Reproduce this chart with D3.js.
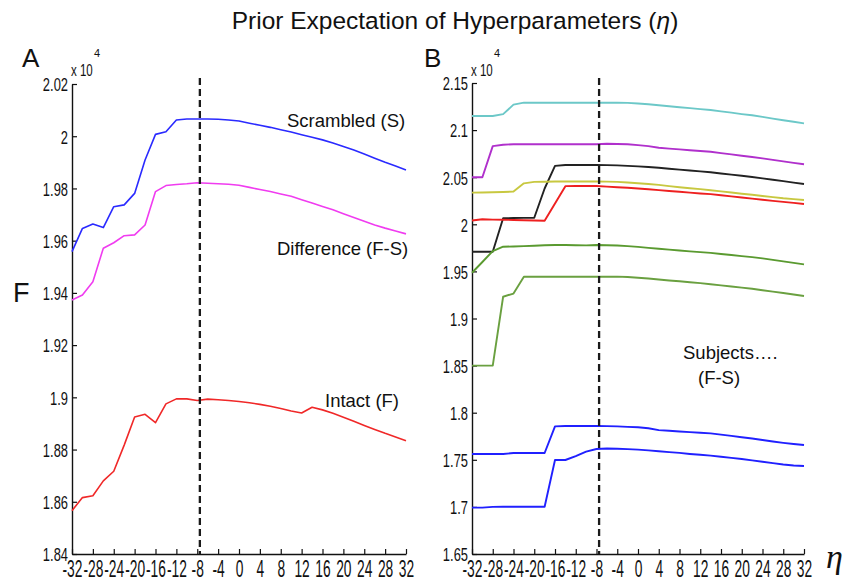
<!DOCTYPE html>
<html><head><meta charset="utf-8">
<script src="https://cdn.jsdelivr.net/npm/d3@7/dist/d3.min.js"></script>
<style>
body{margin:0;background:#fff}
svg{display:block}
text{font-family:"Liberation Sans",Arial,Helvetica,sans-serif;fill:#111}
</style>
</head><body>
<svg id="chart" width="847" height="586"></svg>
<script>
// ---- shared x grid (eta) ----
const eta = [-32,-30,-28,-26,-24,-22,-20,-18,-16,-14,-12,-10,-8,-6,-4,-2,0,2,4,6,8,10,12,14,16,18,20,22,24,26,28,30,32];
const xTicks = [-32,-28,-24,-20,-16,-12,-8,-4,0,4,8,12,16,20,24,28,32];
const priorEta = -7.5;

// ---- Panel A (values x 10^4) ----
const yTicksA = [1.84,1.86,1.88,1.9,1.92,1.94,1.96,1.98,2,2.02];
const scrambledS = [1.9558,1.9647,1.9664,1.9650,1.9730,1.9737,1.9781,1.9909,2.0007,2.0017,2.0062,2.0066,2.0066,2.0066,2.0065,2.0062,2.0058,2.0050,2.0042,2.0034,2.0025,2.0016,2.0006,1.9996,1.9986,1.9974,1.9961,1.9947,1.9932,1.9916,1.9900,1.9886,1.9871];
const differenceFS = [1.9373,1.9392,1.9443,1.9571,1.9592,1.9619,1.9622,1.9660,1.9788,1.9811,1.9815,1.9818,1.9822,1.9820,1.9818,1.9816,1.9812,1.9804,1.9796,1.9788,1.9779,1.9770,1.9757,1.9744,1.9731,1.9718,1.9703,1.9689,1.9674,1.9660,1.9648,1.9637,1.9626];
const intactF = [1.8566,1.8616,1.8623,1.8680,1.8717,1.8817,1.8925,1.8935,1.8903,1.8975,1.8994,1.8994,1.8988,1.8993,1.8991,1.8988,1.8984,1.8979,1.8973,1.8966,1.8957,1.8948,1.8940,1.8962,1.8952,1.8939,1.8924,1.8908,1.8892,1.8877,1.8862,1.8848,1.8834];

// ---- Panel B: subjects (F-S), values x 10^4 ----
const yTicksB = [1.65,1.7,1.75,1.8,1.85,1.9,1.95,2,2.05,2.1,2.15];
const subj1 = [2.1150,2.1150,2.1150,2.1170,2.1270,2.1291,2.1291,2.1291,2.1291,2.1291,2.1291,2.1291,2.1291,2.1291,2.1291,2.1289,2.1283,2.1275,2.1264,2.1253,2.1243,2.1233,2.1223,2.1213,2.1199,2.1185,2.1170,2.1157,2.1140,2.1122,2.1105,2.1089,2.1072];
const subj2 = [2.0499,2.0499,2.0830,2.0845,2.0850,2.0850,2.0850,2.0850,2.0850,2.0850,2.0850,2.0850,2.0850,2.0855,2.0853,2.0850,2.0840,2.0830,2.0812,2.0803,2.0795,2.0786,2.0778,2.0770,2.0756,2.0742,2.0728,2.0715,2.0700,2.0684,2.0668,2.0652,2.0637];
const subj3 = [1.9709,1.9709,1.9709,2.0064,2.0067,2.0068,2.0070,2.0380,2.0620,2.0630,2.0630,2.0630,2.0630,2.0628,2.0625,2.0620,2.0615,2.0608,2.0600,2.0590,2.0580,2.0571,2.0562,2.0553,2.0540,2.0527,2.0515,2.0502,2.0488,2.0473,2.0458,2.0443,2.0428];
const subj4 = [2.0336,2.0338,2.0340,2.0343,2.0347,2.0435,2.0450,2.0452,2.0454,2.0455,2.0455,2.0455,2.0455,2.0453,2.0450,2.0443,2.0436,2.0428,2.0418,2.0405,2.0394,2.0383,2.0373,2.0362,2.0350,2.0337,2.0325,2.0313,2.0300,2.0288,2.0276,2.0267,2.0258];
const subj5 = [2.0040,2.0053,2.0050,2.0048,2.0046,2.0043,2.0040,2.0038,2.0220,2.0405,2.0407,2.0407,2.0407,2.0400,2.0394,2.0388,2.0380,2.0372,2.0363,2.0354,2.0345,2.0336,2.0327,2.0320,2.0308,2.0296,2.0284,2.0272,2.0260,2.0249,2.0238,2.0227,2.0216];
const subj6 = [1.9486,1.9600,1.9716,1.9762,1.9765,1.9768,1.9772,1.9778,1.9780,1.9780,1.9778,1.9776,1.9780,1.9778,1.9775,1.9768,1.9760,1.9750,1.9740,1.9731,1.9722,1.9713,1.9705,1.9697,1.9685,1.9674,1.9662,1.9652,1.9638,1.9622,1.9606,1.9590,1.9575];
const subj7 = [1.8500,1.8500,1.8500,1.9231,1.9265,1.9444,1.9444,1.9444,1.9444,1.9444,1.9444,1.9444,1.9444,1.9444,1.9444,1.9440,1.9432,1.9424,1.9414,1.9404,1.9395,1.9385,1.9375,1.9364,1.9352,1.9340,1.9328,1.9316,1.9300,1.9285,1.9270,1.9255,1.9239];
const subj8 = [1.7562,1.7562,1.7562,1.7562,1.7572,1.7572,1.7572,1.7572,1.7855,1.7859,1.7859,1.7859,1.7859,1.7857,1.7855,1.7850,1.7845,1.7835,1.7815,1.7808,1.7801,1.7794,1.7787,1.7780,1.7767,1.7754,1.7740,1.7726,1.7710,1.7694,1.7680,1.7668,1.7657];
const subj9 = [1.6992,1.6992,1.7000,1.7002,1.7002,1.7002,1.7002,1.7002,1.7498,1.7498,1.7540,1.7586,1.7615,1.7620,1.7618,1.7613,1.7608,1.7600,1.7591,1.7582,1.7573,1.7562,1.7553,1.7544,1.7532,1.7520,1.7508,1.7494,1.7479,1.7465,1.7450,1.7440,1.7434];

const seriesA = [
  {name:"Scrambled (S)", values:scrambledS, color:"#2a2aff"},
  {name:"Difference (F-S)", values:differenceFS, color:"#f03cf0"},
  {name:"Intact (F)", values:intactF, color:"#f02828"}
];
const seriesB = [
  {values:subj1, color:"#6cc8c8"},
  {values:subj2, color:"#b030cc"},
  {values:subj3, color:"#222222"},
  {values:subj4, color:"#c8c840"},
  {values:subj5, color:"#ee2020"},
  {values:subj6, color:"#5a9a30"},
  {values:subj7, color:"#6aa040"},
  {values:subj8, color:"#2020ff"},
  {values:subj9, color:"#2020ff"}
];

const svg = d3.select("#chart");

// title
svg.append("text").attr("x", 455).attr("y", 29).attr("text-anchor","middle")
  .style("font-size","24.5px")
  .html('Prior Expectation of Hyperparameters (<tspan font-style="italic">η</tspan>)');

function panel(opts){
  const x = d3.scaleLinear().domain([-32,32]).range([opts.x0, opts.x1]);
  const y = d3.scaleLinear().domain(opts.yDomain).range([554, opts.yTop]);
  const g = svg.append("g");

  // x axis
  const xa = g.append("g").attr("transform", `translate(0,554)`)
    .call(d3.axisBottom(x).tickValues(xTicks).tickSizeInner(-5).tickSizeOuter(0).tickFormat(d => String(d)));
  xa.selectAll("text").attr("y", 23).attr("dy", null)
    .style("font-size","23px").attr("transform","scale(0.6,1)").style("fill","#111");
  // y axis
  const sy = 0.68;
  const ya = g.append("g").attr("transform", `translate(${opts.x0},0)`)
    .call(d3.axisLeft(y).tickValues(opts.yTicks).tickSizeInner(-5).tickSizeOuter(0).tickFormat(d => String(+d.toFixed(3))));
  ya.selectAll("text").attr("x", -4/sy).attr("dy","0.36em").style("font-size","19px").attr("transform",`scale(${sy},1)`).style("fill","#111");
  g.selectAll(".domain").attr("stroke","#111").attr("stroke-width",1.4);
  g.selectAll(".tick line").attr("stroke","#111").attr("stroke-width",1.2);

  // multiplier label
  g.append("text").attr("x", (opts.x0 - 1)/0.72).attr("y", 76).attr("transform","scale(0.72,1)")
    .style("font-size","16px").text("x 10");
  g.append("text").attr("x", opts.x0 + 22).attr("y", 57).style("font-size","11px").text("4");

  // lines
  const line = d3.line().x((d,i) => x(eta[i])).y(d => y(d));
  g.selectAll("path.series").data(opts.series).join("path")
    .attr("class","series")
    .attr("d", d => line(d.values))
    .attr("fill","none")
    .attr("stroke", d => d.color)
    .attr("stroke-width", opts.lw)
    .attr("stroke-linejoin","round");

  // dashed prior line
  g.append("line").attr("x1", x(priorEta)).attr("x2", x(priorEta))
    .attr("y1", 78).attr("y2", 554)
    .attr("stroke","#1a1a1a").attr("stroke-width",2.3).attr("stroke-dasharray","7,4");
  return {x, y, g};
}

const A = panel({x0:72, x1:406, yTop:84, yDomain:[1.84,2.02], yTicks:yTicksA, series:seriesA, lw:1.6});
const B = panel({x0:472, x1:804, yTop:83, yDomain:[1.65,2.15], yTicks:yTicksB, series:seriesB, lw:1.9});

// panel letters
svg.append("text").attr("x", 22).attr("y", 67).style("font-size","26px").text("A");
svg.append("text").attr("x", 424).attr("y", 67).style("font-size","26px").text("B");
svg.append("text").attr("x", 13).attr("y", 302).style("font-size","27px").text("F");
svg.append("text").attr("x", 826).attr("y", 568).style("font-size","34px")
  .style("font-family","'Liberation Serif','Times New Roman',serif").style("font-style","italic").text("η");

// annotations
const ann = [
  {t:"Scrambled (S)", x:287, y:127},
  {t:"Difference (F-S)", x:277, y:255},
  {t:"Intact (F)", x:325, y:407},
  {t:"Subjects….", x:683, y:359},
  {t:"(F-S)", x:698, y:384}
];
svg.selectAll("text.ann").data(ann).join("text").attr("class","ann")
  .attr("x", d => d.x).attr("y", d => d.y).style("font-size","18.5px").text(d => d.t);
</script>
</body></html>
